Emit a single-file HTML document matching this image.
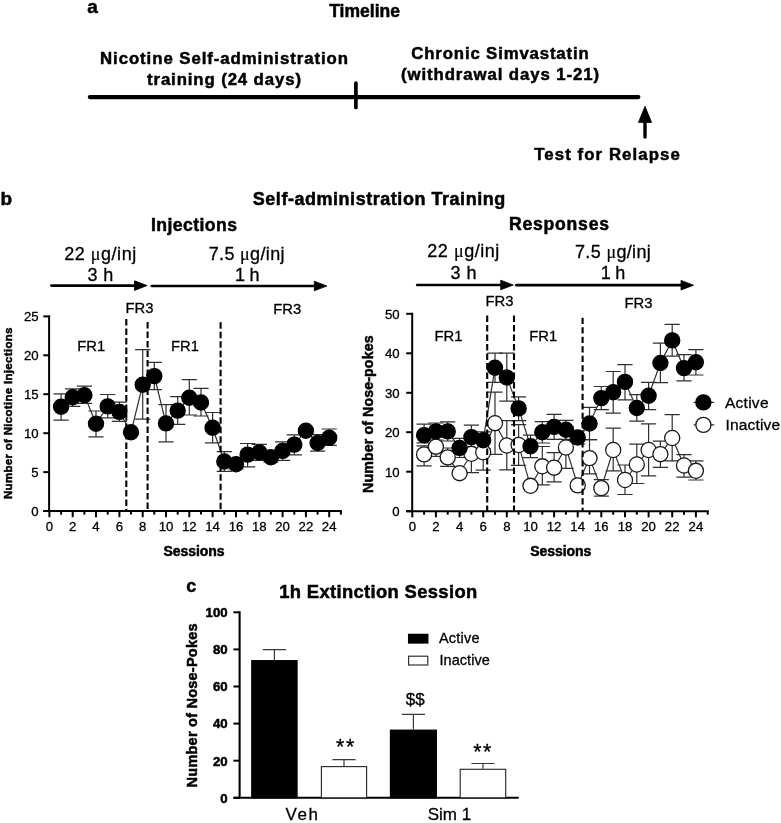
<!DOCTYPE html>
<html lang="en"><head><meta charset="utf-8"><title>Figure</title>
<style>
html,body{margin:0;padding:0;background:#fff;}
body{width:781px;height:823px;overflow:hidden;}
svg{display:block;font-family:'Liberation Sans',sans-serif;}
text{fill:#000;text-anchor:middle;stroke:#000;stroke-width:.3px;}
text.b{font-weight:bold;stroke-width:.5px;}
text.s{text-anchor:start;}
text.n{text-anchor:end;}
.mu{font-family:'Liberation Serif','DejaVu Serif',serif;font-size:18px;stroke-width:.2px;}
line{stroke:#000;}
.e{fill:none;stroke:#303030;stroke-width:1.2;}
.e2{fill:none;stroke:#3a3a3a;stroke-width:1.2;}
.ca{fill:#000;stroke:#000;stroke-width:1.3;}
.ci{fill:#fff;stroke:#1a1a1a;stroke-width:1.3;}
rect.ci{stroke:#2a2a2a;stroke-width:1.15;}
</style></head>
<body>
<svg width="781" height="823" viewBox="0 0 781 823">
<rect width="781" height="823" fill="#fff" stroke="none"/>
<text class="b s" x="87.3" y="13.2" font-size="19">a</text>
<text class="b" x="364.6" y="16.5" font-size="17.5">Timeline</text>
<text class="b" x="224" y="64.2" font-size="16.8" textLength="248">Nicotine Self-administration</text>
<text class="b" x="224" y="84.6" font-size="16.8" textLength="154">training (24 days)</text>
<text class="b" x="500" y="58.8" font-size="16.8" textLength="177.5">Chronic Simvastatin</text>
<text class="b" x="500" y="80.2" font-size="16.8" textLength="198">(withdrawal days 1-21)</text>
<line x1="89.8" y1="97.1" x2="638.4" y2="97.1" stroke-width="4.1" stroke-linecap="round"/>
<line x1="355.9" y1="83.2" x2="355.9" y2="107.5" stroke-width="3.7" stroke-linecap="round"/>
<line x1="645" y1="137" x2="645" y2="119" stroke-width="3.4" stroke-linecap="round"/>
<polygon points="645,106.3 638.4,122.4 651.6,122.4" fill="#000" stroke="#000" stroke-width="0.8" stroke-linejoin="round"/>
<text class="b" x="607" y="159.6" font-size="16.8" textLength="145.5">Test for Relapse</text>
<text class="b s" x="0.6" y="205" font-size="19">b</text>
<text class="b" x="379" y="205.4" font-size="18" textLength="252.5">Self-administration Training</text>
<text class="b" x="194" y="231" font-size="17.6" textLength="86">Injections</text>
<text class="b" x="559" y="230.4" font-size="17.6" textLength="100">Responses</text>
<text class="r" x="100.2" y="260" font-size="18" textLength="72">22 <tspan class="mu">μ</tspan>g/inj</text>
<text class="r" x="100.4" y="280.9" font-size="18" textLength="25.8">3 h</text>
<text class="r" x="246.6" y="259.7" font-size="18" textLength="75.8">7.5 <tspan class="mu">μ</tspan>g/inj</text>
<text class="r" x="247.3" y="280.7" font-size="18" textLength="24.6">1 h</text>
<line x1="51.4" y1="285.6" x2="137.1" y2="285.6" stroke-width="2.7" stroke-linecap="round"/>
<polygon points="147.1,285.6 134.5,280.8 134.5,290.4" fill="#000" stroke="#000" stroke-width="0.8" stroke-linejoin="round"/>
<line x1="151.8" y1="286" x2="316.9" y2="286" stroke-width="2.7" stroke-linecap="round"/>
<polygon points="326.9,286 314.3,281.2 314.3,290.8" fill="#000" stroke="#000" stroke-width="0.8" stroke-linejoin="round"/>
<text class="r" x="463.3" y="257.4" font-size="18" textLength="72">22 <tspan class="mu">μ</tspan>g/inj</text>
<text class="r" x="463.5" y="278.8" font-size="18" textLength="25.8">3 h</text>
<text class="r" x="612.9" y="258.3" font-size="18" textLength="75.8">7.5 <tspan class="mu">μ</tspan>g/inj</text>
<text class="r" x="613" y="279.3" font-size="18" textLength="24.6">1 h</text>
<line x1="417.2" y1="285" x2="503.3" y2="285" stroke-width="2.7" stroke-linecap="round"/>
<polygon points="513.3,285 500.7,280.2 500.7,289.8" fill="#000" stroke="#000" stroke-width="0.8" stroke-linejoin="round"/>
<line x1="516.3" y1="285.2" x2="683.6" y2="285.2" stroke-width="2.7" stroke-linecap="round"/>
<polygon points="693.6,285.2 681,280.4 681,290" fill="#000" stroke="#000" stroke-width="0.8" stroke-linejoin="round"/>
<line x1="49.1" y1="315.4" x2="49.1" y2="512" stroke-width="2"/>
<line x1="43.3" y1="511" x2="341.8" y2="511" stroke-width="2.1"/>
<line x1="43.3" y1="511" x2="49.1" y2="511" stroke-width="2"/>
<text class="r n" x="38.6" y="515.8" font-size="13.2">0</text>
<line x1="43.3" y1="472.1" x2="49.1" y2="472.1" stroke-width="2"/>
<text class="r n" x="38.6" y="476.9" font-size="13.2">5</text>
<line x1="43.3" y1="433.2" x2="49.1" y2="433.2" stroke-width="2"/>
<text class="r n" x="38.6" y="438" font-size="13.2">10</text>
<line x1="43.3" y1="394.2" x2="49.1" y2="394.2" stroke-width="2"/>
<text class="r n" x="38.6" y="399" font-size="13.2">15</text>
<line x1="43.3" y1="355.3" x2="49.1" y2="355.3" stroke-width="2"/>
<text class="r n" x="38.6" y="360.1" font-size="13.2">20</text>
<line x1="43.3" y1="316.4" x2="49.1" y2="316.4" stroke-width="2"/>
<text class="r n" x="38.6" y="321.2" font-size="13.2">25</text>
<line x1="49.4" y1="511" x2="49.4" y2="517.2" stroke-width="2"/>
<text class="r" x="49.4" y="530.6" font-size="13.2">0</text>
<line x1="61.1" y1="511" x2="61.1" y2="514.6" stroke-width="2"/>
<line x1="72.7" y1="511" x2="72.7" y2="517.2" stroke-width="2"/>
<text class="r" x="72.7" y="530.6" font-size="13.2">2</text>
<line x1="84.4" y1="511" x2="84.4" y2="514.6" stroke-width="2"/>
<line x1="96" y1="511" x2="96" y2="517.2" stroke-width="2"/>
<text class="r" x="96" y="530.6" font-size="13.2">4</text>
<line x1="107.7" y1="511" x2="107.7" y2="514.6" stroke-width="2"/>
<line x1="119.4" y1="511" x2="119.4" y2="517.2" stroke-width="2"/>
<text class="r" x="119.4" y="530.6" font-size="13.2">6</text>
<line x1="131" y1="511" x2="131" y2="514.6" stroke-width="2"/>
<line x1="142.7" y1="511" x2="142.7" y2="517.2" stroke-width="2"/>
<text class="r" x="142.7" y="530.6" font-size="13.2">8</text>
<line x1="154.3" y1="511" x2="154.3" y2="514.6" stroke-width="2"/>
<line x1="166" y1="511" x2="166" y2="517.2" stroke-width="2"/>
<text class="r" x="166" y="530.6" font-size="13.2">10</text>
<line x1="177.7" y1="511" x2="177.7" y2="514.6" stroke-width="2"/>
<line x1="189.3" y1="511" x2="189.3" y2="517.2" stroke-width="2"/>
<text class="r" x="189.3" y="530.6" font-size="13.2">12</text>
<line x1="201" y1="511" x2="201" y2="514.6" stroke-width="2"/>
<line x1="212.6" y1="511" x2="212.6" y2="517.2" stroke-width="2"/>
<text class="r" x="212.6" y="530.6" font-size="13.2">14</text>
<line x1="224.3" y1="511" x2="224.3" y2="514.6" stroke-width="2"/>
<line x1="236" y1="511" x2="236" y2="517.2" stroke-width="2"/>
<text class="r" x="236" y="530.6" font-size="13.2">16</text>
<line x1="247.6" y1="511" x2="247.6" y2="514.6" stroke-width="2"/>
<line x1="259.3" y1="511" x2="259.3" y2="517.2" stroke-width="2"/>
<text class="r" x="259.3" y="530.6" font-size="13.2">18</text>
<line x1="270.9" y1="511" x2="270.9" y2="514.6" stroke-width="2"/>
<line x1="282.6" y1="511" x2="282.6" y2="517.2" stroke-width="2"/>
<text class="r" x="282.6" y="530.6" font-size="13.2">20</text>
<line x1="294.3" y1="511" x2="294.3" y2="514.6" stroke-width="2"/>
<line x1="305.9" y1="511" x2="305.9" y2="517.2" stroke-width="2"/>
<text class="r" x="305.9" y="530.6" font-size="13.2">22</text>
<line x1="317.6" y1="511" x2="317.6" y2="514.6" stroke-width="2"/>
<line x1="329.2" y1="511" x2="329.2" y2="517.2" stroke-width="2"/>
<text class="r" x="329.2" y="530.6" font-size="13.2">24</text>
<line x1="340.9" y1="511" x2="340.9" y2="514.6" stroke-width="2"/>
<text class="b" x="194" y="556.2" font-size="14" textLength="61">Sessions</text>
<text class="b" transform="translate(11.7,413.3) rotate(-90)" font-size="11.5" textLength="171.5">Number of Nicotine Injections</text>
<text class="r" x="91.3" y="351.2" font-size="14.8">FR1</text>
<text class="r" x="185" y="351.2" font-size="14.8">FR1</text>
<text class="r" x="139.5" y="312.7" font-size="14.8">FR3</text>
<text class="r" x="287.2" y="314.1" font-size="14.8">FR3</text>
<path class="e" d="M53.5 393.8H68.7M53.5 420.2H68.7M61.1 393.8V420.2"/>
<path class="e" d="M65.1 388.9H80.3M65.1 406.4H80.3M72.7 388.9V406.4"/>
<path class="e" d="M76.8 386.1H92M76.8 403.3H92M84.4 386.1V403.3"/>
<path class="e" d="M88.4 411H103.6M88.4 436.8H103.6M96 411V436.8"/>
<path class="e" d="M100.1 394.5H115.3M100.1 417.9H115.3M107.7 394.5V417.9"/>
<path class="e" d="M111.8 402.2H127M111.8 421.4H127M119.4 402.2V421.4"/>
<path class="e" d="M135.1 349.7H150.3M135.1 419.1H150.3M142.7 349.7V419.1"/>
<path class="e" d="M146.7 362.4H161.9M146.7 389.7H161.9M154.3 362.4V389.7"/>
<path class="e" d="M158.4 404.7H173.6M158.4 441.8H173.6M166 404.7V441.8"/>
<path class="e" d="M170.1 396.7H185.3M170.1 424.3H185.3M177.7 396.7V424.3"/>
<path class="e" d="M181.7 379.7H196.9M181.7 415H196.9M189.3 379.7V415"/>
<path class="e" d="M193.4 388.4H208.6M193.4 416H208.6M201 388.4V416"/>
<path class="e" d="M205 412.5H220.2M205 442.8H220.2M212.6 412.5V442.8"/>
<path class="e" d="M216.7 451.7H231.9M216.7 471.4H231.9M224.3 451.7V471.4"/>
<path class="e" d="M228.4 459.5H243.6M228.4 469H243.6M236 459.5V469"/>
<path class="e" d="M240 443.5H255.2M240 466.8H255.2M247.6 443.5V466.8"/>
<path class="e" d="M251.7 444.3H266.9M251.7 460.5H266.9M259.3 444.3V460.5"/>
<path class="e" d="M263.3 452.6H278.5M263.3 462H278.5M270.9 452.6V462"/>
<path class="e" d="M275 441.9H290.2M275 460.4H290.2M282.6 441.9V460.4"/>
<path class="e" d="M286.7 434.8H301.9M286.7 454.8H301.9M294.3 434.8V454.8"/>
<path class="e" d="M310 434.5H325.2M310 451.1H325.2M317.6 434.5V451.1"/>
<path class="e" d="M321.6 429H336.8M321.6 445.4H336.8M329.2 429V445.4"/>
<polyline class="e" points="61.1,406.8 72.7,397.2 84.4,395.3 96,423.7 107.7,406.4 119.4,411.9 131,432.3 142.7,384.7 154.3,376.1 166,423.4 177.7,410.6 189.3,397.8 201,402.5 212.6,427.8 224.3,461.5 236,464.2 247.6,454.6 259.3,452.4 270.9,457.3 282.6,450.9 294.3,444.6 305.9,430.7 317.6,443 329.2,437.7"/>
<circle class="ca" cx="61.1" cy="406.8" r="7.55"/>
<circle class="ca" cx="72.7" cy="397.2" r="7.55"/>
<circle class="ca" cx="84.4" cy="395.3" r="7.55"/>
<circle class="ca" cx="96" cy="423.7" r="7.55"/>
<circle class="ca" cx="107.7" cy="406.4" r="7.55"/>
<circle class="ca" cx="119.4" cy="411.9" r="7.55"/>
<circle class="ca" cx="131" cy="432.3" r="7.55"/>
<circle class="ca" cx="142.7" cy="384.7" r="7.55"/>
<circle class="ca" cx="154.3" cy="376.1" r="7.55"/>
<circle class="ca" cx="166" cy="423.4" r="7.55"/>
<circle class="ca" cx="177.7" cy="410.6" r="7.55"/>
<circle class="ca" cx="189.3" cy="397.8" r="7.55"/>
<circle class="ca" cx="201" cy="402.5" r="7.55"/>
<circle class="ca" cx="212.6" cy="427.8" r="7.55"/>
<circle class="ca" cx="224.3" cy="461.5" r="7.55"/>
<circle class="ca" cx="236" cy="464.2" r="7.55"/>
<circle class="ca" cx="247.6" cy="454.6" r="7.55"/>
<circle class="ca" cx="259.3" cy="452.4" r="7.55"/>
<circle class="ca" cx="270.9" cy="457.3" r="7.55"/>
<circle class="ca" cx="282.6" cy="450.9" r="7.55"/>
<circle class="ca" cx="294.3" cy="444.6" r="7.55"/>
<circle class="ca" cx="305.9" cy="430.7" r="7.55"/>
<circle class="ca" cx="317.6" cy="443" r="7.55"/>
<circle class="ca" cx="329.2" cy="437.7" r="7.55"/>
<line x1="126.3" y1="319" x2="126.3" y2="511" stroke-width="2.1" stroke-dasharray="6.4 3.1"/>
<line x1="147.6" y1="322" x2="147.6" y2="511" stroke-width="2.1" stroke-dasharray="6.4 3.1"/>
<line x1="220.6" y1="322.3" x2="220.6" y2="511" stroke-width="2.1" stroke-dasharray="6.4 3.1"/>
<line x1="412.2" y1="312.8" x2="412.2" y2="512.2" stroke-width="2"/>
<line x1="406.2" y1="511.2" x2="708.8" y2="511.2" stroke-width="2.1"/>
<line x1="406.2" y1="511.2" x2="412.2" y2="511.2" stroke-width="2"/>
<text class="r n" x="399.7" y="516" font-size="13.2">0</text>
<line x1="406.2" y1="471.7" x2="412.2" y2="471.7" stroke-width="2"/>
<text class="r n" x="399.7" y="476.5" font-size="13.2">10</text>
<line x1="406.2" y1="432.2" x2="412.2" y2="432.2" stroke-width="2"/>
<text class="r n" x="399.7" y="437" font-size="13.2">20</text>
<line x1="406.2" y1="392.8" x2="412.2" y2="392.8" stroke-width="2"/>
<text class="r n" x="399.7" y="397.6" font-size="13.2">30</text>
<line x1="406.2" y1="353.3" x2="412.2" y2="353.3" stroke-width="2"/>
<text class="r n" x="399.7" y="358.1" font-size="13.2">40</text>
<line x1="406.2" y1="313.8" x2="412.2" y2="313.8" stroke-width="2"/>
<text class="r n" x="399.7" y="318.6" font-size="13.2">50</text>
<line x1="412.3" y1="511.2" x2="412.3" y2="517.3" stroke-width="2"/>
<text class="r" x="412.3" y="530.6" font-size="13.2">0</text>
<line x1="424.1" y1="511.2" x2="424.1" y2="514.7" stroke-width="2"/>
<line x1="435.9" y1="511.2" x2="435.9" y2="517.3" stroke-width="2"/>
<text class="r" x="435.9" y="530.6" font-size="13.2">2</text>
<line x1="447.7" y1="511.2" x2="447.7" y2="514.7" stroke-width="2"/>
<line x1="459.6" y1="511.2" x2="459.6" y2="517.3" stroke-width="2"/>
<text class="r" x="459.6" y="530.6" font-size="13.2">4</text>
<line x1="471.4" y1="511.2" x2="471.4" y2="514.7" stroke-width="2"/>
<line x1="483.2" y1="511.2" x2="483.2" y2="517.3" stroke-width="2"/>
<text class="r" x="483.2" y="530.6" font-size="13.2">6</text>
<line x1="495" y1="511.2" x2="495" y2="514.7" stroke-width="2"/>
<line x1="506.8" y1="511.2" x2="506.8" y2="517.3" stroke-width="2"/>
<text class="r" x="506.8" y="530.6" font-size="13.2">8</text>
<line x1="518.6" y1="511.2" x2="518.6" y2="514.7" stroke-width="2"/>
<line x1="530.5" y1="511.2" x2="530.5" y2="517.3" stroke-width="2"/>
<text class="r" x="530.5" y="530.6" font-size="13.2">10</text>
<line x1="542.3" y1="511.2" x2="542.3" y2="514.7" stroke-width="2"/>
<line x1="554.1" y1="511.2" x2="554.1" y2="517.3" stroke-width="2"/>
<text class="r" x="554.1" y="530.6" font-size="13.2">12</text>
<line x1="565.9" y1="511.2" x2="565.9" y2="514.7" stroke-width="2"/>
<line x1="577.7" y1="511.2" x2="577.7" y2="517.3" stroke-width="2"/>
<text class="r" x="577.7" y="530.6" font-size="13.2">14</text>
<line x1="589.5" y1="511.2" x2="589.5" y2="514.7" stroke-width="2"/>
<line x1="601.3" y1="511.2" x2="601.3" y2="517.3" stroke-width="2"/>
<text class="r" x="601.3" y="530.6" font-size="13.2">16</text>
<line x1="613.2" y1="511.2" x2="613.2" y2="514.7" stroke-width="2"/>
<line x1="625" y1="511.2" x2="625" y2="517.3" stroke-width="2"/>
<text class="r" x="625" y="530.6" font-size="13.2">18</text>
<line x1="636.8" y1="511.2" x2="636.8" y2="514.7" stroke-width="2"/>
<line x1="648.6" y1="511.2" x2="648.6" y2="517.3" stroke-width="2"/>
<text class="r" x="648.6" y="530.6" font-size="13.2">20</text>
<line x1="660.4" y1="511.2" x2="660.4" y2="514.7" stroke-width="2"/>
<line x1="672.2" y1="511.2" x2="672.2" y2="517.3" stroke-width="2"/>
<text class="r" x="672.2" y="530.6" font-size="13.2">22</text>
<line x1="684" y1="511.2" x2="684" y2="514.7" stroke-width="2"/>
<line x1="695.9" y1="511.2" x2="695.9" y2="517.3" stroke-width="2"/>
<text class="r" x="695.9" y="530.6" font-size="13.2">24</text>
<line x1="707.7" y1="511.2" x2="707.7" y2="514.7" stroke-width="2"/>
<text class="b" x="560.8" y="556.2" font-size="14" textLength="61">Sessions</text>
<text class="b" transform="translate(372.6,414.2) rotate(-90)" font-size="14.2" textLength="157.5">Number of Nose-pokes</text>
<text class="r" x="448.5" y="341.1" font-size="14.8">FR1</text>
<text class="r" x="543.3" y="341.1" font-size="14.8">FR1</text>
<text class="r" x="499.5" y="306.4" font-size="14.8">FR3</text>
<text class="r" x="638.4" y="308" font-size="14.8">FR3</text>
<path class="e" d="M416.5 445.8H431.7M416.5 465.9H431.7M424.1 445.8V465.9"/>
<path class="e" d="M428.3 437H443.5M428.3 456.3H443.5M435.9 437V456.3"/>
<path class="e" d="M440.1 448H455.3M440.1 466.3H455.3M447.7 448V466.3"/>
<path class="e" d="M463.8 435H479M463.8 472.7H479M471.4 435V472.7"/>
<path class="e" d="M475.6 434.5H490.8M475.6 470.2H490.8M483.2 434.5V470.2"/>
<path class="e" d="M487.4 392.1H502.6M487.4 454.3H502.6M495 392.1V454.3"/>
<path class="e" d="M499.2 420.7H514.4M499.2 469.8H514.4M506.8 420.7V469.8"/>
<path class="e" d="M511 424.6H526.2M511 465.4H526.2M518.6 424.6V465.4"/>
<path class="e" d="M534.7 446.5H549.9M534.7 484.8H549.9M542.3 446.5V484.8"/>
<path class="e" d="M546.5 452.7H561.7M546.5 481.9H561.7M554.1 452.7V481.9"/>
<path class="e" d="M558.3 426.7H573.5M558.3 468.3H573.5M565.9 426.7V468.3"/>
<path class="e" d="M581.9 439.6H597.1M581.9 473.8H597.1M589.5 439.6V473.8"/>
<path class="e" d="M593.7 479.6H608.9M593.7 496.2H608.9M601.3 479.6V496.2"/>
<path class="e" d="M605.6 428.1H620.8M605.6 470.8H620.8M613.2 428.1V470.8"/>
<path class="e" d="M617.4 465H632.6M617.4 494.5H632.6M625 465V494.5"/>
<path class="e" d="M629.2 444.2H644.4M629.2 483.5H644.4M636.8 444.2V483.5"/>
<path class="e" d="M641 423.9H656.2M641 475.9H656.2M648.6 423.9V475.9"/>
<path class="e" d="M652.8 441.2H668M652.8 467.3H668M660.4 441.2V467.3"/>
<path class="e" d="M664.6 414.7H679.8M664.6 460.9H679.8M672.2 414.7V460.9"/>
<path class="e" d="M676.4 454.6H691.6M676.4 477.2H691.6M684 454.6V477.2"/>
<path class="e" d="M688.3 460.9H703.5M688.3 480H703.5M695.9 460.9V480"/>
<path class="e" d="M416.5 424.1H431.7M416.5 442.9H431.7M424.1 424.1V442.9"/>
<path class="e" d="M428.3 423H443.5M428.3 440H443.5M435.9 423V440"/>
<path class="e" d="M440.1 421.8H455.3M440.1 441H455.3M447.7 421.8V441"/>
<path class="e" d="M452 438.4H467.2M452 457.5H467.2M459.6 438.4V457.5"/>
<path class="e" d="M463.8 425.2H479M463.8 449H479M471.4 425.2V449"/>
<path class="e" d="M475.6 431.8H490.8M475.6 448.8H490.8M483.2 431.8V448.8"/>
<path class="e" d="M487.4 353.2H502.6M487.4 382.4H502.6M495 353.2V382.4"/>
<path class="e" d="M499.2 353.2H514.4M499.2 401.2H514.4M506.8 353.2V401.2"/>
<path class="e" d="M511 396.8H526.2M511 420.7H526.2M518.6 396.8V420.7"/>
<path class="e" d="M522.9 435.2H538.1M522.9 457.6H538.1M530.5 435.2V457.6"/>
<path class="e" d="M534.7 421.6H549.9M534.7 443H549.9M542.3 421.6V443"/>
<path class="e" d="M546.5 414.4H561.7M546.5 439.4H561.7M554.1 414.4V439.4"/>
<path class="e" d="M558.3 420.3H573.5M558.3 439.3H573.5M565.9 420.3V439.3"/>
<path class="e" d="M570.1 431H585.3M570.1 444H585.3M577.7 431V444"/>
<path class="e" d="M581.9 407.3H597.1M581.9 439.6H597.1M589.5 407.3V439.6"/>
<path class="e" d="M593.7 386.5H608.9M593.7 409.6H608.9M601.3 386.5V409.6"/>
<path class="e" d="M605.6 371.5H620.8M605.6 413.1H620.8M613.2 371.5V413.1"/>
<path class="e" d="M617.4 364.6H632.6M617.4 399.9H632.6M625 364.6V399.9"/>
<path class="e" d="M629.2 394.6H644.4M629.2 421.2H644.4M636.8 394.6V421.2"/>
<path class="e" d="M641 382.4H656.2M641 409.6H656.2M648.6 382.4V409.6"/>
<path class="e" d="M652.8 343.2H668M652.8 382.6H668M660.4 343.2V382.6"/>
<path class="e" d="M664.6 324.3H679.8M664.6 356.1H679.8M672.2 324.3V356.1"/>
<path class="e" d="M676.4 354.7H691.6M676.4 380.8H691.6M684 354.7V380.8"/>
<path class="e" d="M688.3 349.6H703.5M688.3 375H703.5M695.9 349.6V375"/>
<polyline class="e" points="424.1,454.4 435.9,446.7 447.7,457.4 459.6,473.2 471.4,453.8 483.2,452.3 495,423.2 506.8,445.5 518.6,445 530.5,485.8 542.3,466.3 554.1,467.7 565.9,447.5 577.7,485.4 589.5,458.1 601.3,488.1 613.2,450 625,480 636.8,464.5 648.6,450 660.4,454.2 672.2,438 684,465.5 695.9,470.8"/>
<circle class="ci" cx="424.1" cy="454.4" r="7.55"/>
<circle class="ci" cx="435.9" cy="446.7" r="7.55"/>
<circle class="ci" cx="447.7" cy="457.4" r="7.55"/>
<circle class="ci" cx="459.6" cy="473.2" r="7.55"/>
<circle class="ci" cx="471.4" cy="453.8" r="7.55"/>
<circle class="ci" cx="483.2" cy="452.3" r="7.55"/>
<circle class="ci" cx="495" cy="423.2" r="7.55"/>
<circle class="ci" cx="506.8" cy="445.5" r="7.55"/>
<circle class="ci" cx="518.6" cy="445" r="7.55"/>
<circle class="ci" cx="530.5" cy="485.8" r="7.55"/>
<circle class="ci" cx="542.3" cy="466.3" r="7.55"/>
<circle class="ci" cx="554.1" cy="467.7" r="7.55"/>
<circle class="ci" cx="565.9" cy="447.5" r="7.55"/>
<circle class="ci" cx="577.7" cy="485.4" r="7.55"/>
<circle class="ci" cx="589.5" cy="458.1" r="7.55"/>
<circle class="ci" cx="601.3" cy="488.1" r="7.55"/>
<circle class="ci" cx="613.2" cy="450" r="7.55"/>
<circle class="ci" cx="625" cy="480" r="7.55"/>
<circle class="ci" cx="636.8" cy="464.5" r="7.55"/>
<circle class="ci" cx="648.6" cy="450" r="7.55"/>
<circle class="ci" cx="660.4" cy="454.2" r="7.55"/>
<circle class="ci" cx="672.2" cy="438" r="7.55"/>
<circle class="ci" cx="684" cy="465.5" r="7.55"/>
<circle class="ci" cx="695.9" cy="470.8" r="7.55"/>
<polyline class="e" points="424.1,435.2 435.9,431.4 447.7,431.4 459.6,448 471.4,437.1 483.2,440.2 495,367.8 506.8,377.5 518.6,408.4 530.5,446.3 542.3,432.3 554.1,426.9 565.9,429.8 577.7,437.5 589.5,423.5 601.3,398.1 613.2,392.3 625,381.9 636.8,408 648.6,395.8 660.4,363 672.2,340.4 684,368.1 695.9,362.3"/>
<circle class="ca" cx="424.1" cy="435.2" r="7.55"/>
<circle class="ca" cx="435.9" cy="431.4" r="7.55"/>
<circle class="ca" cx="447.7" cy="431.4" r="7.55"/>
<circle class="ca" cx="459.6" cy="448" r="7.55"/>
<circle class="ca" cx="471.4" cy="437.1" r="7.55"/>
<circle class="ca" cx="483.2" cy="440.2" r="7.55"/>
<circle class="ca" cx="495" cy="367.8" r="7.55"/>
<circle class="ca" cx="506.8" cy="377.5" r="7.55"/>
<circle class="ca" cx="518.6" cy="408.4" r="7.55"/>
<circle class="ca" cx="530.5" cy="446.3" r="7.55"/>
<circle class="ca" cx="542.3" cy="432.3" r="7.55"/>
<circle class="ca" cx="554.1" cy="426.9" r="7.55"/>
<circle class="ca" cx="565.9" cy="429.8" r="7.55"/>
<circle class="ca" cx="577.7" cy="437.5" r="7.55"/>
<circle class="ca" cx="589.5" cy="423.5" r="7.55"/>
<circle class="ca" cx="601.3" cy="398.1" r="7.55"/>
<circle class="ca" cx="613.2" cy="392.3" r="7.55"/>
<circle class="ca" cx="625" cy="381.9" r="7.55"/>
<circle class="ca" cx="636.8" cy="408" r="7.55"/>
<circle class="ca" cx="648.6" cy="395.8" r="7.55"/>
<circle class="ca" cx="660.4" cy="363" r="7.55"/>
<circle class="ca" cx="672.2" cy="340.4" r="7.55"/>
<circle class="ca" cx="684" cy="368.1" r="7.55"/>
<circle class="ca" cx="695.9" cy="362.3" r="7.55"/>
<line x1="487.2" y1="315.6" x2="487.2" y2="511.2" stroke-width="2.1" stroke-dasharray="6.4 3.1"/>
<line x1="514" y1="315.6" x2="514" y2="511.2" stroke-width="2.1" stroke-dasharray="6.4 3.1"/>
<line x1="582.6" y1="317.7" x2="582.6" y2="511.2" stroke-width="2.1" stroke-dasharray="6.4 3.1"/>
<path class="e" d="M693.6 402.4H714.2M693.6 424.9H714.2"/>
<circle class="ca" cx="703.4" cy="402.4" r="7.55"/>
<circle class="ci" cx="703.4" cy="424.9" r="7.55"/>
<text class="r s" x="725" y="407.5" font-size="15.5" textLength="43.5">Active</text>
<text class="r s" x="725.6" y="430" font-size="15.5" textLength="54.5">Inactive</text>
<text class="b s" x="186.2" y="592" font-size="18">c</text>
<text class="b" x="378.2" y="597.5" font-size="18.4" textLength="198">1h Extinction Session</text>
<line x1="239.6" y1="611.2" x2="239.6" y2="798.8" stroke-width="2.1"/>
<line x1="233.4" y1="797.8" x2="518.8" y2="797.8" stroke-width="2.1"/>
<line x1="233.4" y1="797.8" x2="239.6" y2="797.8" stroke-width="2"/>
<text class="b n" x="227.6" y="802.6" font-size="13.2">0</text>
<line x1="233.4" y1="760.7" x2="239.6" y2="760.7" stroke-width="2"/>
<text class="b n" x="227.6" y="765.5" font-size="13.2">20</text>
<line x1="233.4" y1="723.6" x2="239.6" y2="723.6" stroke-width="2"/>
<text class="b n" x="227.6" y="728.4" font-size="13.2">40</text>
<line x1="233.4" y1="686.5" x2="239.6" y2="686.5" stroke-width="2"/>
<text class="b n" x="227.6" y="691.3" font-size="13.2">60</text>
<line x1="233.4" y1="649.4" x2="239.6" y2="649.4" stroke-width="2"/>
<text class="b n" x="227.6" y="654.2" font-size="13.2">80</text>
<line x1="233.4" y1="612.3" x2="239.6" y2="612.3" stroke-width="2"/>
<text class="b n" x="227.6" y="617.1" font-size="13.2">100</text>
<text class="b" transform="translate(196.8,705.4) rotate(-90)" font-size="14.5" textLength="164">Number of Nose-Pokes</text>
<path class="e2" d="M262.8 649.6H286M274.4 649.6V660.1"/>
<rect class="ca" x="251.8" y="660.7" width="45.2" height="137.1"/>
<path class="e2" d="M332.4 759.6H355.6M344 759.6V766"/>
<rect class="ci" x="321.4" y="766.6" width="45.2" height="31.2"/>
<path class="e2" d="M401.8 714.4H425M413.4 714.4V729.6"/>
<rect class="ca" x="390.5" y="730.2" width="45.8" height="67.6"/>
<path class="e2" d="M471.4 763.5H494.6M483 763.5V768.7"/>
<rect class="ci" x="460.2" y="769.3" width="45.5" height="28.5"/>
<text class="r" x="345.2" y="754.2" font-size="21.5" textLength="18.2">**</text>
<text class="r" x="482.3" y="759.3" font-size="21.5" textLength="18.2">**</text>
<text class="r" x="415.2" y="705.4" font-size="17">$$</text>
<text class="r" x="301.8" y="820.3" font-size="17" textLength="32.4">Veh</text>
<text class="r" x="449.4" y="820.3" font-size="17">Sim 1</text>
<rect class="ca" x="408.6" y="634.4" width="19.2" height="8.6"/>
<rect class="ci" x="408.6" y="656.2" width="19.2" height="8.8"/>
<text class="r s" x="439" y="643.4" font-size="14.5" textLength="40.5">Active</text>
<text class="r s" x="439.4" y="665" font-size="14.5" textLength="50.5">Inactive</text>
</svg>
</body></html>
